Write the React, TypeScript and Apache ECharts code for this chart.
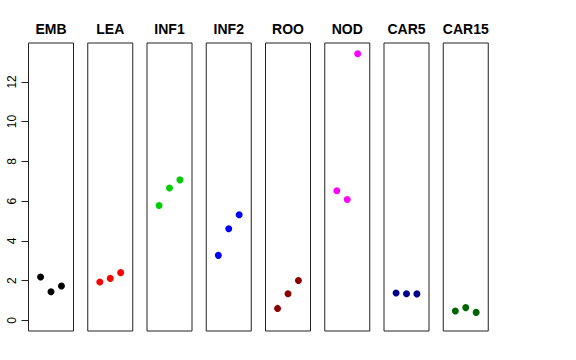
import React, { useEffect, useRef } from "react";
import * as echarts from "echarts";

const panels = ["EMB", "LEA", "INF1", "INF2", "ROO", "NOD", "CAR5", "CAR15"];
const colors = ["#000000", "#FF0000", "#00CD00", "#0000FF", "#8B0000", "#FF00FF", "#00008B", "#006400"];
const embValues = [2.18, 1.44, 1.73];
const leaValues = [1.93, 2.11, 2.4];
const inf1Values = [5.78, 6.66, 7.07];
const inf2Values = [3.27, 4.61, 5.31];
const rooValues = [0.6, 1.34, 2.0];
const nodValues = [6.52, 6.08, 13.42];
const car5Values = [1.38, 1.34, 1.33];
const car15Values = [0.47, 0.64, 0.4];
const panelValues = [embValues, leaValues, inf1Values, inf2Values, rooValues, nodValues, car5Values, car15Values];
const replicates = [1, 2, 3];
const yTicks = [0, 2, 4, 6, 8, 10, 12];

export default function App() {
  const ref = useRef<HTMLDivElement>(null);
  useEffect(() => {
    if (!ref.current) return;
    const chart = echarts.init(ref.current, null, { renderer: "svg" });
    const dataMax = 13.42;
    const dataMin = 0;
    const ext = (dataMax - dataMin) * 0.04;
    const yMin = dataMin - ext;
    const yMax = dataMax + ext;
    const top = 43;
    const height = 288;
    const left0 = 28.5;
    const step = 59.25;
    const width = 45;
    const k = height / (yMax - yMin);
    const font = "'Liberation Sans', Arial, Helvetica, sans-serif";

    const grids: any[] = [];
    const xAxes: any[] = [];
    const yAxes: any[] = [];
    const series: any[] = [];
    const graphics: any[] = [];
    panels.forEach((name, i) => {
      const left = left0 + i * step;
      grids.push({
        left,
        top,
        width,
        height,
        show: true,
        borderColor: "#222",
        borderWidth: 1,
        backgroundColor: "transparent",
      });
      xAxes.push({
        type: "value",
        gridIndex: i,
        min: -0.16,
        max: 4.16,
        show: false,
      });
      yAxes.push({
        type: "value",
        gridIndex: i,
        min: yMin,
        max: yMax,
        show: false,
      });
      series.push({
        type: "scatter",
        xAxisIndex: i,
        yAxisIndex: i,
        symbol: "circle",
        symbolSize: 7,
        itemStyle: { color: colors[i], opacity: 1 },
        data: replicates.map((r, j) => [r, panelValues[i][j]]),
        silent: true,
      });
      graphics.push({
        type: "text",
        x: left + width / 2,
        y: 29,
        style: {
          text: name,
          fill: "#000",
          font: `bold 14px ${font}`,
          textAlign: "center",
          textVerticalAlign: "middle",
        },
      });
    });

    // axis-only grid for the y ticks (0..12)
    const axTop = top + (yMax - yTicks[yTicks.length - 1]) * k;
    const axHeight = (yTicks[yTicks.length - 1] - yTicks[0]) * k;
    grids.push({ left: left0, top: axTop, width, height: axHeight, show: false });
    xAxes.push({ type: "value", gridIndex: 8, min: 0, max: 1, show: false });
    yAxes.push({
      type: "value",
      gridIndex: 8,
      min: yTicks[0],
      max: yTicks[yTicks.length - 1],
      interval: 2,
      axisLine: { show: true, lineStyle: { color: "#222", width: 1 } },
      axisTick: { show: true, length: 7, lineStyle: { color: "#222" } },
      splitLine: { show: false },
      axisLabel: {
        rotate: 90,
        margin: 11,
        fontSize: 12,
        fontFamily: font,
        color: "#000",
      },
    });

    chart.setOption({
      animation: false,
      backgroundColor: "#ffffff",
      grid: grids,
      xAxis: xAxes,
      yAxis: yAxes,
      series,
      graphic: graphics,
    });
    return () => chart.dispose();
  }, []);
  return <div ref={ref} style={{ width: 576, height: 360, position: "absolute", left: 0, top: 0 }} />;
}
